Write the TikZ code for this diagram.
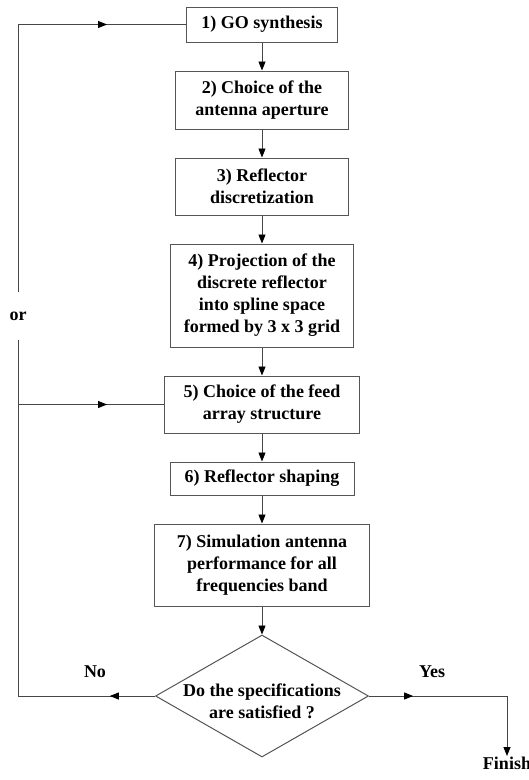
\documentclass[tikz,border=0pt]{standalone}
\usepackage{fontspec}
\setmainfont{Liberation Serif}
\usetikzlibrary{positioning, arrows.meta, shapes.geometric, decorations.markings}
\definecolor{boxLine}{RGB}{85, 85, 85}
\definecolor{flowLine}{RGB}{70, 70, 70}
\tikzset{
    step_box/.style={
        rectangle,
        draw=boxLine,
        line width=1pt,
        align=center,
        inner sep=2pt,
        font=\fontsize{18}{22}\selectfont\bfseries
    },
    label_text/.style={
        inner sep=1pt,
        font=\fontsize{18}{22}\selectfont\bfseries
    },
    decision/.style={
        diamond,
        draw=boxLine,
        line width=1pt,
        inner sep=0pt,
        minimum width=213pt,
        minimum height=122pt
    },
    flow_line/.style={
        draw=flowLine,
        line width=0.9pt
    },
    flow_edge/.style={
        flow_line,
        -{Triangle[length=9pt, width=7pt, fill=black, color=black]}
    },
    mid_tip/.style={
        flow_line,
        postaction={decorate},
        decoration={markings,
            mark=at position #1 with {\arrow{Triangle[length=9pt, width=7pt, fill=black, color=black]}}}
    }
}

\begin{document}
\begin{tikzpicture}[x=1pt, y=1pt, node distance=28pt]
    \useasboundingbox (0,0) rectangle (529,-780);

    % main column
    \node[step_box, minimum width=151pt, minimum height=35pt] (go) at (262,-24.5) {1) GO synthesis};
    \node[step_box, minimum width=173pt, minimum height=58pt, below=of go] (aperture) {2) Choice of the\\antenna aperture};
    \node[step_box, minimum width=173pt, minimum height=57pt, below=of aperture] (discrete) {3) Reflector\\discretization};
    \node[step_box, minimum width=183pt, minimum height=103pt, below=of discrete] (spline) {4) Projection of the\\discrete reflector\\into spline space\\formed by 3 x 3 grid};
    \node[step_box, minimum width=195pt, minimum height=57pt, below=of spline] (feed) {5) Choice of the feed\\array structure};
    \node[step_box, minimum width=184pt, minimum height=33pt, below=of feed] (shaping) {6) Reflector shaping};
    \node[step_box, minimum width=215pt, minimum height=82pt, below=of shaping] (simul) {7) Simulation antenna\\performance for all\\frequencies band};
    \node[decision, below=of simul] (check) {};
    \node[step_box, draw=none, yshift=-5pt] (check_text) at (check) {Do the specifications\\are satisfied ?};

    % labels
    \node[label_text] (no_lab) at (95,-672) {No};
    \node[label_text] (yes_lab) at (432,-672) {Yes};
    \node[label_text, minimum height=47pt, inner sep=0pt] (or_lab) at (18,-316) {or};
    \node[label_text, anchor=north] (finish) at (507,-756) {Finish};

    % loop corners
    \coordinate (loop_x) at (18,0);
    \coordinate (loop_bottom) at (loop_x |- check.west);
    \coordinate (loop_top) at (loop_x |- go.west);
    \coordinate (loop_feed) at (loop_x |- feed.west);
    \coordinate (yes_corner) at (check.east -| finish.north);

    \draw[flow_edge] (go) -- (aperture);
    \draw[flow_edge] (aperture) -- (discrete);
    \draw[flow_edge] (discrete) -- (spline);
    \draw[flow_edge] (spline) -- (feed);
    \draw[flow_edge] (feed) -- (shaping);
    \draw[flow_edge] (shaping) -- (simul);
    \draw[flow_edge] (simul) -- (check);

    % no branch
    \draw[mid_tip=0.33] (check.west) -- (loop_bottom);
    \draw[flow_line] (loop_bottom) -- (or_lab.south);
    \draw[flow_line] (or_lab.north) -- (loop_top);
    \draw[mid_tip=0.53] (loop_top) -- (go.west);
    \draw[mid_tip=0.61] (loop_feed) -- (feed.west);

    % yes branch
    \draw[mid_tip=0.32] (check.east) -- (yes_corner);
    \draw[flow_edge] (yes_corner) -- (finish.north);
\end{tikzpicture}
\end{document}
